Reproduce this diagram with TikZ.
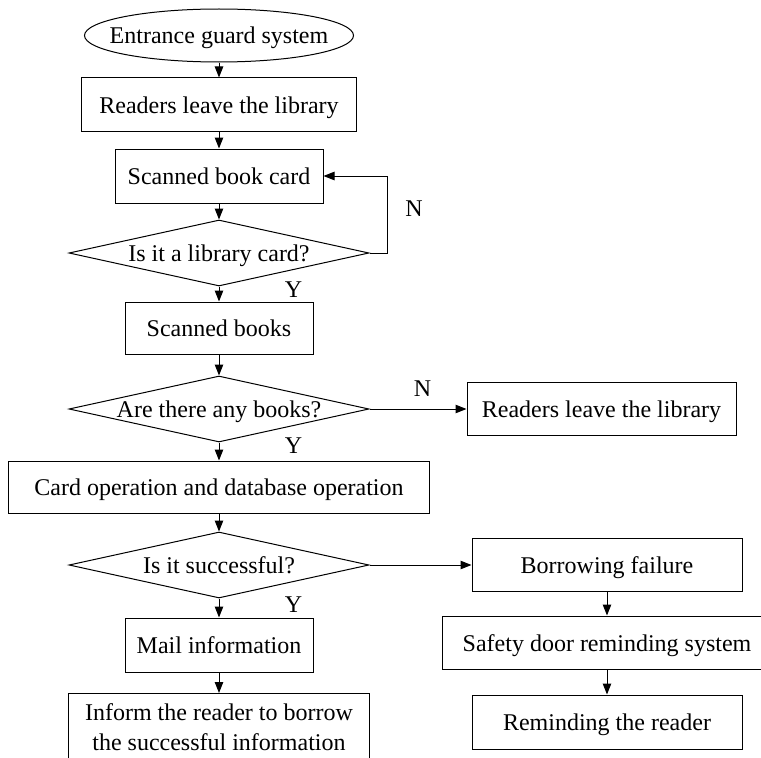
\documentclass[tikz,border=0pt]{standalone}
\usepackage{fontspec}
\setmainfont{Liberation Serif}
\usetikzlibrary{shapes.geometric,arrows.meta}
\begin{document}
\begin{tikzpicture}[x=1bp,y=-1bp,
  every node/.style={font=\fontsize{24bp}{30bp}\selectfont, line width=1bp},
  box/.style={draw, rectangle, inner sep=0pt, text height=22bp, text depth=5bp},
  dec/.style={draw, diamond, inner sep=0pt, minimum width=300bp, minimum height=66bp, text height=22bp, text depth=5bp},
  arr/.style={-{Triangle[length=11bp,width=8.5bp]}, line width=1bp},
  lab/.style={inner sep=0pt}]
\useasboundingbox (0,0) rectangle (761,758);
\clip (0,0) rectangle (761,758);
% main column
\node[draw, ellipse, inner sep=0pt, minimum width=269bp, minimum height=53bp, text height=22bp, text depth=5bp] (start) at (219,35.5) {\makebox[0pt]{Entrance guard system}};
\node[box, minimum width=274bp, minimum height=53bp] (r1) at (219,104.5) {Readers leave the library};
\node[box, minimum width=208bp, minimum height=54bp] (r2) at (219,176) {Scanned book card};
\node[dec] (d1) at (219,253) {\makebox[0pt]{Is it a library card?}};
\node[box, minimum width=188bp, minimum height=52bp] (r3) at (219,328) {Scanned books};
\node[dec] (d2) at (219,409) {\makebox[0pt]{Are there any books?}};
\node[box, minimum width=420bp, minimum height=52bp] (r4) at (219,487) {Card operation and database operation};
\node[dec] (d3) at (219,565) {\makebox[0pt]{Is it successful?}};
\node[box, minimum width=188bp, minimum height=54bp] (r5) at (219,645) {Mail information};
\node[draw, rectangle, inner xsep=0pt, anchor=north, minimum width=301bp, inner ysep=10bp, align=center] (r6) at (219,693) {Inform the reader to borrow\\the successful information};
% right column
\node[box, minimum width=269bp, minimum height=53bp] (q1) at (601.5,409) {Readers leave the library};
\node[box, minimum width=270bp, minimum height=53bp] (q2) at (607,565) {Borrowing failure};
\node[box, minimum width=330bp, minimum height=53bp] (q3) at (607,642.5) {Safety door reminding system};
\node[box, minimum width=270bp, minimum height=54bp] (q4) at (607,722) {Reminding the reader};
% labels
\node[lab] (n1) at (414,209) {N};
\node[lab] (y1) at (293.5,290) {Y};
\node[lab] (n2) at (422.5,388.5) {N};
\node[lab] (y2) at (293.5,445.5) {Y};
\node[lab] (y3) at (293.5,605) {Y};
% connectors
\draw[arr] (start) -- (r1);
\draw[arr] (r1) -- (r2);
\draw[arr] (r2) -- (d1);
\draw[arr] (d1.east) -- ++(18,0) |- (r2.east);
\draw[arr] (d1) -- (r3);
\draw[arr] (r3) -- (d2);
\draw[arr] (d2.east) -- (q1.west);
\draw[arr] (d2) -- (r4);
\draw[arr] (r4) -- (d3);
\draw[arr] (d3.east) -- (q2.west);
\draw[arr] (d3) -- (r5);
\draw[arr] (r5) -- (r6);
\draw[arr] (q2) -- (q3);
\draw[arr] (q3) -- (q4);
\end{tikzpicture}
\end{document}
